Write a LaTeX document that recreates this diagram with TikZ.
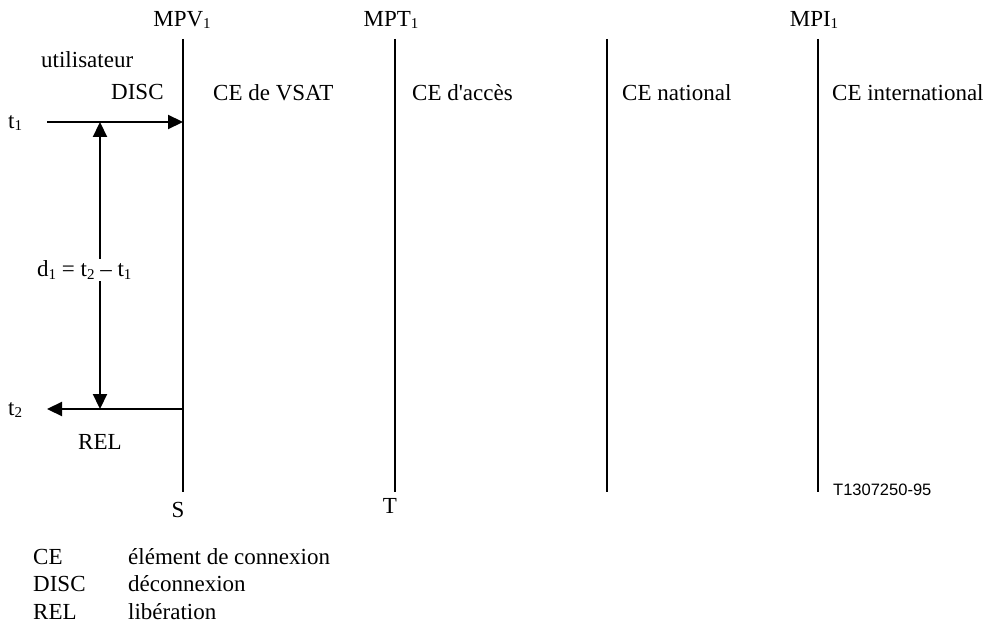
\documentclass[tikz,border=0pt]{standalone}
\usepackage{fontspec}
\setmainfont{Liberation Serif}
\newfontfamily\serifnm{Liberation Serif}
\newfontfamily\refsans{Liberation Sans}
\usetikzlibrary{arrows.meta}
\newcommand{\mysub}[1]{\raisebox{-0.12em}{\fontsize{15}{15}\selectfont #1}}
\begin{document}
\begin{tikzpicture}[x=1pt,y=-1pt,
  lbl/.style={inner sep=0pt,font=\fontsize{23}{26}\selectfont},
  lbll/.style={lbl,anchor=west},
  vline/.style={line width=2.2pt},
  msg/.style={line width=2.2pt,-{Triangle[length=15pt,width=14pt]}},
  dur/.style={line width=2.2pt,{Triangle[length=15pt,width=14pt]}-{Triangle[length=15pt,width=14pt]}}]
\useasboundingbox (0,0) rectangle (994,623);
% vertical lines
\coordinate (vT) at (183,39); \coordinate (vB) at (183,492);
\coordinate (tT) at (395,39); \coordinate (tB) at (395,492);
\coordinate (nT) at (607,39); \coordinate (nB) at (607,492);
\coordinate (iT) at (818,39); \coordinate (iB) at (818,492);
\draw[vline] (vT) -- (vB);
\draw[vline] (tT) -- (tB);
\draw[vline] (nT) -- (nB);
\draw[vline] (iT) -- (iB);
% headers
\node[lbl] (mpv) at (182,20) {MPV\mysub{1}};
\node[lbl] (mpt) at (391,20) {MPT\mysub{1}};
\node[lbl] (mpi) at (814,20) {MPI\mysub{1}};
\node[lbll] (util) at (41,60) {utilisateur};
\node[lbll] (disc) at (111,92) {DISC};
\node[lbll] (cev) at (213,93) {CE de VSAT};
\node[lbll] (cea) at (412,93) {\serifnm CE d'accès};
\node[lbll] (cen) at (622,93) {CE national};
\node[lbll] (cei) at (832,93) {CE international};
% messages
\node[lbll] (t1) at (8,123) {t\mysub{1}};
\coordinate (t1s) at (47,122);
\coordinate (t1e) at (183,122);
\draw[msg] (t1s) -- (t1e);
\coordinate (t2s) at (183,409);
\coordinate (t2e) at (47,409);
\draw[msg] (t2s) -- (t2e);
\node[lbll] (t2) at (8,410) {t\mysub{2}};
\node[lbll] (rel) at (78,442) {REL};
\coordinate (dT) at (100,122);
\coordinate (dB) at (100,409);
\draw[dur] (dT) -- (dB);
\node[lbll,fill=white,inner sep=2pt] (d1) at (35,270) {d\mysub{1} = t\mysub{2} – t\mysub{1}};
% bottom labels
\node[lbl] (s) at (178,510) {S};
\node[lbl] (t) at (390,506) {T};
\node[inner sep=0pt,anchor=west,font=\refsans\fontsize{16.5}{19}\selectfont] (ref) at (833,490) {T1307250-95};
% legend
\node[lbll] (l1a) at (33,557) {CE};
\node[lbll] (l1b) at (128,557) {élément de connexion};
\node[lbll] (l2a) at (33,584) {DISC};
\node[lbll] (l2b) at (128,584) {déconnexion};
\node[lbll] (l3a) at (33,612) {REL};
\node[lbll] (l3b) at (128,612) {libération};
\end{tikzpicture}
\end{document}
